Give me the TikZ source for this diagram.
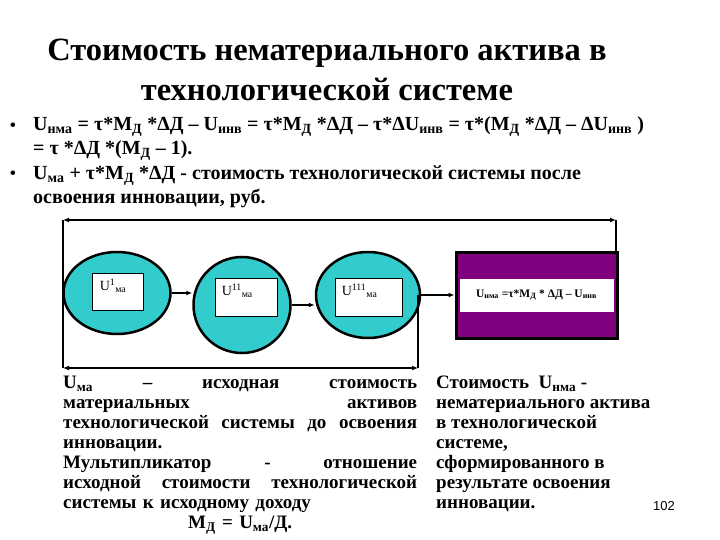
\documentclass[tikz,border=0pt]{standalone}
\usepackage{fontspec}
\setmainfont{Liberation Serif}
\newfontfamily\numfont{Liberation Sans}
\usepackage{tikz}
\usetikzlibrary{arrows.meta,positioning,shapes.geometric,calc}

\definecolor{ovalfill}{RGB}{51,204,204}
\definecolor{boxfill}{RGB}{128,0,128}

\tikzset{
  oval/.style={ellipse, draw=black, line width=2.5pt, fill=ovalfill, inner sep=0pt},
  inbox/.style={rectangle, draw=black, line width=0.8pt, fill=white, inner sep=0pt},
  lbl/.style={anchor=north west, inner sep=0pt, font=\fontsize{14}{15}\selectfont},
  resbox/.style={rectangle, draw=black, line width=3pt, fill=boxfill, inner sep=0pt},
  band/.style={rectangle, fill=white, inner sep=0pt, font=\fontsize{11.5}{12}\selectfont\bfseries},
  link/.style={line width=1.5pt, -{Latex[length=6pt,width=5pt]}},
  span/.style={line width=1.2pt, {Latex[length=6pt,width=5pt]}-{Latex[length=6pt,width=5pt]}},
  plain/.style={line width=1.2pt},
  body/.style={inner sep=0pt, align=left, font=\fontsize{19}{20}\selectfont\bfseries},
}

\begin{document}
\begin{tikzpicture}[x=1pt, y=-1pt]
\useasboundingbox[fill=white] (0,0) rectangle (720,540);

% title
\node[align=center, inner sep=0pt, font=\fontsize{32.5}{40}\selectfont\bfseries] (title) at (327,70)
  {Стоимость нематериального актива в\\технологической системе};

% formulas
\node[inner sep=0pt, font=\fontsize{19}{20}\selectfont] (dot1) at (13,127) {•};
\node[inner sep=0pt, font=\fontsize{19}{20}\selectfont] (dot2) at (13,175) {•};
\node[body, font=\fontsize{20}{23.5}\selectfont\bfseries, anchor=west] (f1) at (33,138.5)
  {U\textsubscript{нма} = τ*M\textsubscript{Д} *ΔД – U\textsubscript{инв} = τ*M\textsubscript{Д} *ΔД – τ*ΔU\textsubscript{инв} = τ*(M\textsubscript{Д} *ΔД – ΔU\textsubscript{инв} )\\
   = τ *ΔД *(M\textsubscript{Д} – 1).};
\node[body, font=\fontsize{20}{24}\selectfont\bfseries, anchor=west] (f2) at (33,187)
  {U\textsubscript{ма} + τ*M\textsubscript{Д} *ΔД - стоимость технологической системы после\\
   освоения инновации, руб.};

% chain of assets
\node[oval, minimum width=107, minimum height=82] (c1) at (117,293) {};
\node[oval, minimum width=97, minimum height=96] (c2) at (242,305) {};
\node[oval, minimum width=104, minimum height=86] (c3) at (368,295) {};
\node[inbox, minimum width=51, minimum height=37] (r1) at (117.5,291.5) {};
\node[inbox, minimum width=62, minimum height=38] (r2) at (246,297) {};
\node[inbox, minimum width=67, minimum height=38] (r3) at (368.5,297) {};
\node[lbl] (u1) at ([shift={(8,6)}]r1.north west) {U\textsuperscript{1}\textsubscript{ма}};
\node[lbl] (u2) at ([shift={(7,6)}]r2.north west) {U\textsuperscript{11}\textsubscript{ма}};
\node[lbl] (u3) at ([shift={(7,6)}]r3.north west) {U\textsuperscript{111}\textsubscript{ма}};

\node[resbox, minimum width=161, minimum height=86] (res) at (536.5,295) {};
\node[band, minimum width=154, minimum height=33] (eq) at (res)
  {U\textsubscript{нма} =τ*M\textsubscript{Д} * ΔД – U\textsubscript{инв}};

\draw[link] (c1.east) -- (c1.east -| c2.west);
\draw[link] (c2.east) -- (c2.east -| c3.west);
\draw[link] (c3.east) -- (res.west);

% brackets
\coordinate (tl) at (63,220);
\coordinate (tr) at (616,220);
\coordinate (bl) at (63,368);
\coordinate (br) at (418,368);
\draw[plain] (bl) -- (tl);
\draw[span] (tl) -- (tr);
\draw[plain] (tr) -- (tr |- res.north);
\draw[span] (bl) -- (br);
\draw[plain] (br) -- (br |- c3.east);

% notes
\node[body, text width=354, anchor=north west] (left) at (63,376)
  {U\textsubscript{ма} \hfill – \hfill исходная \hfill стоимость\\
   материальных \hfill активов\\
   технологической \hfill системы \hfill до \hfill освоения\\
   инновации.\\
   Мультипликатор \hfill - \hfill отношение\\
   исходной \hfill стоимости \hfill технологической\\
   системы к исходному доходу\\
   \hfill M\textsubscript{Д} = U\textsubscript{ма}/Д.\hfill\null};
\node[body, anchor=north west] (right) at (436,376)
  {Стоимость \ U\textsubscript{нма} -\\
   нематериального актива\\
   в технологической\\
   системе,\\
   сформированного в\\
   результате освоения\\
   инновации.};
\node[inner sep=0pt, font=\fontsize{13}{14}\selectfont\numfont] (page) at (664,506) {102};
\end{tikzpicture}
\end{document}
